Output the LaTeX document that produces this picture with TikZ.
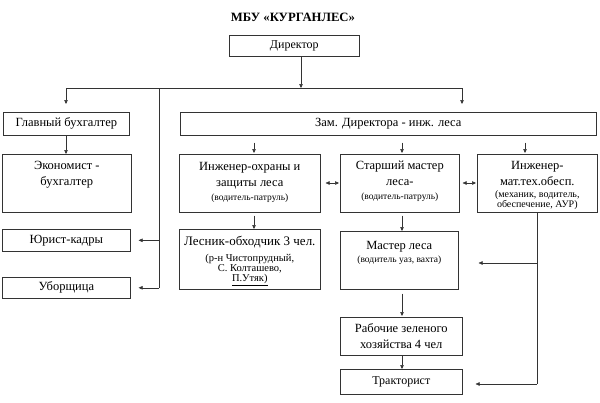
\documentclass[tikz,border=0pt]{standalone}
\usepackage{fontspec}
\setmainfont{Liberation Serif}
\usetikzlibrary{arrows.meta}
\newcommand\smtxt{\fontsize{9.5}{10}\selectfont}
\newcommand\smtxtb{\fontsize{10}{10}\selectfont}
\newcommand\smtxtc{\fontsize{10.5}{10}\selectfont}
\begin{document}
\begin{tikzpicture}[x=1pt,y=-1pt,
  box/.style={draw=black!80, line width=0.6pt, inner sep=0pt, anchor=north west},
  lbl/.style={font=\fontsize{12.5}{16}\selectfont, align=center, inner sep=0pt},
  ln/.style={draw=black!80, line width=0.5pt},
  arr/.style={ln, -{Triangle[length=4pt,width=3.5pt]}},
  darr/.style={ln, {Triangle[length=4pt,width=3.5pt]}-{Triangle[length=4pt,width=3.5pt]}}
]
\useasboundingbox (0,0) rectangle (600,402);
\fill[white] (0,0) rectangle (600,402);

% title
\node[font=\bfseries\fontsize{12.7}{14}\selectfont, inner sep=0pt] (title) at (293,17) {МБУ «КУРГАНЛЕС»};

% boxes
\node[box, minimum width=130pt, minimum height=21pt] (dir) at (229,35) {};
\node[box, minimum width=126pt, minimum height=23pt] (gb) at (3,112) {};
\node[box, minimum width=416pt, minimum height=23pt] (zam) at (180,112) {};
\node[box, minimum width=129pt, minimum height=58pt] (econ) at (2,154) {};
\node[box, minimum width=128pt, minimum height=22pt] (jur) at (2,229) {};
\node[box, minimum width=128pt, minimum height=21pt] (ubor) at (2,277) {};
\node[box, minimum width=141pt, minimum height=58pt] (ing1) at (179,154) {};
\node[box, minimum width=119pt, minimum height=58pt] (star) at (340,154) {};
\node[box, minimum width=120pt, minimum height=58pt] (ing2) at (477,154) {};
\node[box, minimum width=141pt, minimum height=60pt] (les) at (179,229) {};
\node[box, minimum width=118pt, minimum height=58pt] (master) at (340,231) {};
\node[box, minimum width=122pt, minimum height=38pt] (rab) at (340,317) {};
\node[box, minimum width=122pt, minimum height=25pt] (trak) at (340,369) {};

% texts
\node[lbl, font=\fontsize{12}{16}\selectfont] (tdir) at (dir) {Директор};
\node[lbl] (tgb) at (gb) {Главный бухгалтер};
\node[lbl] (tzam) at (zam) {Зам. Директора - инж. леса};
\node[lbl, anchor=north] (tecon) at ([yshift=-7pt]econ.north) {Экономист -\\бухгалтер};
\node[lbl] (tjur) at (jur) {Юрист-кадры};
\node[lbl] (tubor) at (ubor) {Уборщица};
\node[lbl, anchor=north] (ting1) at ([yshift=-8pt]ing1.north) {Инженер-охраны и\\защиты леса\\[-2pt]{\smtxt (водитель-патруль)}};
\node[lbl, anchor=north] (tstar) at ([yshift=-7pt]star.north) {Старший мастер\\леса-\\[-2pt]{\smtxt (водитель-патруль)}};
\node[lbl, anchor=north] (ting2) at ([yshift=-7pt]ing2.north) {Инженер-\\мат.тех.обесп.\\[-4pt]{\smtxtb (механик, водитель,}\\[-6pt]{\smtxtb обеспечение, АУР)}};
\node[lbl, font=\fontsize{13}{16}\selectfont, anchor=north] (tles) at ([yshift=-7pt]les.north) {Лесник-обходчик 3 чел.\\{\smtxtc (р-н Чистопрудный,}\\[-6pt]{\smtxtc С. Колташево,}\\[-6pt]{\smtxtc \underline{П.Утяк)}}};
\node[lbl, anchor=north] (tmaster) at ([yshift=-10pt]master.north) {Мастер леса\\[-3pt]{\smtxt (водитель уаз, вахта)}};
\node[lbl] (trab) at (rab) {Рабочие зеленого\\хозяйства 4 чел};
\node[lbl, font=\fontsize{12}{16}\selectfont] (ttrak) at (trak) {Тракторист};

% reference coordinates
\coordinate (dj) at (301,88);
\coordinate (hl) at (66,88);
\coordinate (hr) at (462,88);
\coordinate (vt) at (159,88);
\coordinate (x1) at (254,0);
\coordinate (x2) at (402,0);
\coordinate (x3) at (525,0);
\coordinate (tb) at (537,384);
\coordinate (mb) at (537,263);
\coordinate (yd) at (0,183);

% connectors
\draw[arr] (dir.south -| dj) -- (dj);
\draw[ln] (hl) -- (hr);
\draw[arr, shorten >=8pt] (hl) -- (hl |- gb.north);
\draw[arr, shorten >=8pt] (hr) -- (hr |- zam.north);
\draw[ln] (vt) -- (ubor.east -| vt);
\draw[arr, shorten >=8pt] (jur.east -| vt) -- (jur.east);
\draw[arr, shorten >=8pt] (ubor.east -| vt) -- (ubor.east);
\draw[arr] (gb.south -| hl) -- (econ.north -| hl);
\draw[arr, shorten <=7pt, shorten >=1pt] (zam.south -| x1) -- (ing1.north -| x1);
\draw[arr, shorten <=7pt, shorten >=1pt] (zam.south -| x2) -- (star.north -| x2);
\draw[arr, shorten <=7pt, shorten >=1pt] (zam.south -| x3) -- (ing2.north -| x3);
\draw[arr, shorten <=3pt] (ing1.south -| x1) -- (les.north -| x1);
\draw[arr, shorten <=3pt] (star.south -| x2) -- (master.north -| x2);
\draw[arr, shorten <=4pt, shorten >=1pt] (master.south -| x2) -- (rab.north -| x2);
\draw[arr] (rab.south -| x2) -- (trak.north -| x2);
\draw[darr, shorten <=5pt, shorten >=1pt] (ing1.east |- yd) -- (star.west |- yd);
\draw[darr, shorten <=3pt, shorten >=1pt] (star.east |- yd) -- (ing2.west |- yd);
\draw[ln] (ing2.south -| tb) -- (tb);
\draw[arr, shorten >=13pt] (tb) -- (tb -| trak.east);
\draw[arr, shorten >=20pt] (mb) -- (mb -| master.east);
\end{tikzpicture}
\end{document}
